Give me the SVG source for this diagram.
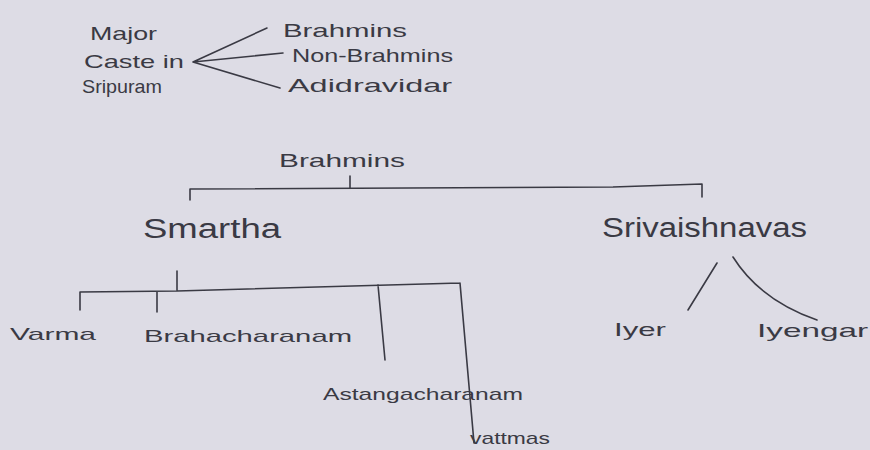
<svg xmlns="http://www.w3.org/2000/svg" width="870" height="450" viewBox="0 0 870 450">
<style>
.t{font-family:"Liberation Sans","DejaVu Sans",sans-serif;fill:#3a3a44;}
.s{font-size:19px;}
.m{font-size:17px;}
.l{font-size:27px;}
.c{stroke:#3a3a44;stroke-width:1.6;fill:none;stroke-linecap:round;stroke-linejoin:round;}
</style>
<rect width="870" height="450" fill="#dddce5"/>
<g id="connectors">
<path class="c" d="M193 62 L267 28 M193 62 L283 53 M193 62 L280 88"/>
<path class="c" d="M350 176 L350 187 M190 200 L190 189 L613 187 L702 184 L702 197"/>
<path class="c" d="M177 271 L177 290 M80 310 L80 292 L177 291 L460 283 M157 292 L157 312 M378 285 L385 360 M460 283 L474 443"/>
<path class="c" d="M717 263 L688 310 M733 257 Q760 300 817 320"/>
</g>
<g id="major-caste"><text class="t s" x="90" y="40" textLength="67" lengthAdjust="spacingAndGlyphs">Major</text><text class="t s" x="84" y="68" textLength="100" lengthAdjust="spacingAndGlyphs">Caste in</text><text class="t s" x="82" y="93" textLength="80" lengthAdjust="spacingAndGlyphs">Sripuram</text></g>
<g id="brahmins-top"><text class="t s" x="283" y="37" textLength="124" lengthAdjust="spacingAndGlyphs">Brahmins</text></g>
<g id="non-brahmins"><text class="t s" x="292" y="62" textLength="161" lengthAdjust="spacingAndGlyphs">Non-Brahmins</text></g>
<g id="adidravidar"><text class="t s" x="288" y="92" textLength="164" lengthAdjust="spacingAndGlyphs">Adidravidar</text></g>
<g id="brahmins"><text class="t s" x="279" y="167" textLength="126" lengthAdjust="spacingAndGlyphs">Brahmins</text></g>
<g id="smartha"><text class="t l" x="143" y="238" textLength="138" lengthAdjust="spacingAndGlyphs">Smartha</text></g>
<g id="srivaishnavas"><text class="t l" x="602" y="237" textLength="205" lengthAdjust="spacingAndGlyphs">Srivaishnavas</text></g>
<g id="varma"><text class="t m" x="10" y="340" textLength="86" lengthAdjust="spacingAndGlyphs">Varma</text></g>
<g id="brahacharanam"><text class="t m" x="144" y="342" textLength="208" lengthAdjust="spacingAndGlyphs">Brahacharanam</text></g>
<g id="astangacharanam"><text class="t m" x="323" y="400" textLength="200" lengthAdjust="spacingAndGlyphs">Astangacharanam</text></g>
<g id="vattmas"><text class="t m" x="470" y="444" textLength="80" lengthAdjust="spacingAndGlyphs">vattmas</text></g>
<g id="iyer"><text class="t s" x="614" y="336" textLength="52" lengthAdjust="spacingAndGlyphs">Iyer</text></g>
<g id="iyengar"><text class="t s" x="757" y="337" textLength="111" lengthAdjust="spacingAndGlyphs">Iyengar</text></g>
</svg>
